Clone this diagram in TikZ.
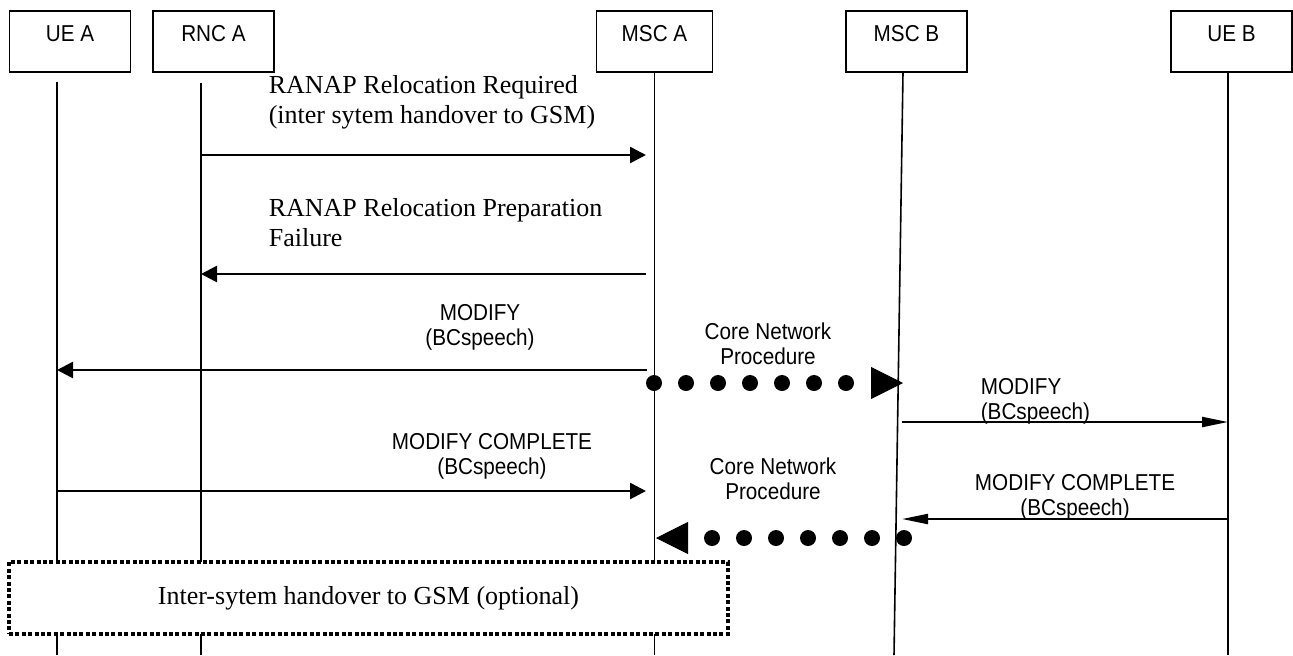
\documentclass[tikz,border=0pt]{standalone}
\usepackage{fontspec}
\setmainfont{Liberation Serif}
\newfontfamily\lblfont[FakeStretch=0.9]{Liberation Sans}
\usepackage{tikz}
\usetikzlibrary{arrows.meta}

\begin{document}
\begin{tikzpicture}[x=0.5pt, y=-0.5pt, line width=0.8pt,
        entity/.style={draw, line width=0.9pt, minimum width=60.5pt, inner sep=0pt,
            text height=15pt, text depth=15.5pt, font=\lblfont\fontsize{11.5}{12.5}\selectfont},
        msg/.style={line width=1.3pt, -{Triangle[length=8pt, width=8pt]}},
        msgb/.style={line width=1.1pt, -{Triangle[length=13pt, width=5pt]}},
        cnp/.style={line width=8pt, line cap=round, dash pattern=on 0pt off 16pt,
            -{Triangle[length=16pt, width=16pt, line width=0.4pt]}},
        rm/.style={inner sep=0pt, align=left, font=\fontsize{13}{15}\selectfont},
        ss/.style={inner sep=0pt, align=center, font=\lblfont\fontsize{11.5}{12.5}\selectfont},
        hobox/.style={draw, fill=white, line width=2pt, dash pattern=on 2pt off 1.2pt,
            minimum width=359.5pt, minimum height=36pt, font=\fontsize{13}{15}\selectfont}]
    \useasboundingbox (0,0) rectangle (1293,655);

    \node [entity] (ueA) at (70,41.5) {UE A};
    \node [entity] (rncA) at (213.5,41.5) {RNC A};
    \node [entity, minimum width=58pt] (mscA) at (654.5,41.5) {MSC A};
    \node [entity] (mscB) at (906.5,41.5) {MSC B};
    \node [entity] (ueB) at (1231.5,41.5) {UE B};

    \coordinate (ueA top) at (57,82);
    \coordinate (ueA end) at (57,655);
    \coordinate (rncA top) at (201,83);
    \coordinate (rncA end) at (201,655);
    \coordinate (mscA top) at (654.5,72);
    \coordinate (mscA end) at (654.5,655);
    \coordinate (mscB top) at (903,72);
    \coordinate (mscB end) at (894,655);
    \coordinate (ueB top) at (1228,72);
    \coordinate (ueB end) at (1228,655);

    \draw (ueA top) -- (ueA end);
    \draw (rncA top) -- (rncA end);
    \draw (mscA top) -- (mscA end);
    \draw (mscB top) -- (mscB end);
    \draw (ueB top) -- (ueB end);

    \node [hobox] (ho) at (368.5,598) {Inter-sytem handover to GSM (optional)};

    \coordinate (req a) at (201,155);
    \coordinate (req b) at (646,155);
    \coordinate (fail a) at (646,274);
    \coordinate (fail b) at (201,274);
    \coordinate (modA a) at (647,370);
    \coordinate (modA b) at (57,370);
    \coordinate (cnp1 a) at (654,383);
    \coordinate (cnp1 b) at (903,383);
    \coordinate (modB a) at (902,422);
    \coordinate (modB b) at (1228,422);
    \coordinate (compA a) at (57,491);
    \coordinate (compA b) at (646,491);
    \coordinate (compB a) at (1228,519);
    \coordinate (compB b) at (902,519);
    \coordinate (cnp2 a) at (904,538);
    \coordinate (cnp2 b) at (656,538);

    \node [rm, anchor=west] (reqlbl) at (268,102.5) {RANAP Relocation Required\\(inter sytem handover to GSM)};
    \node [rm, anchor=west] (faillbl) at (268,222.5) {RANAP Relocation Preparation\\Failure};
    \node [ss] (modAlbl) at (480,327) {MODIFY\\(BCspeech)};
    \node [ss] (cnp1lbl) at (768,343.5) {Core Network\\Procedure};
    \node [ss, align=left, anchor=west] (modBlbl) at (980,401.5) {MODIFY\\(BCspeech)};
    \node [ss] (compAlbl) at (492,456.5) {MODIFY COMPLETE\\(BCspeech)};
    \node [ss] (cnp2lbl) at (773,479) {Core Network\\Procedure};
    \node [ss] (compBlbl) at (1075,497.5) {MODIFY COMPLETE\\(BCspeech)};

    \path (req a) edge[msg] (req b);
    \path (fail a) edge[msg] (fail b);
    \path (modA a) edge[msg] (modA b);
    \path (cnp1 a) edge[cnp] (cnp1 b);
    \path (modB a) edge[msgb] (modB b);
    \path (compA a) edge[msg] (compA b);
    \path (compB a) edge[msgb] (compB b);
    \path (cnp2 a) edge[cnp] (cnp2 b);
\end{tikzpicture}
\end{document}
